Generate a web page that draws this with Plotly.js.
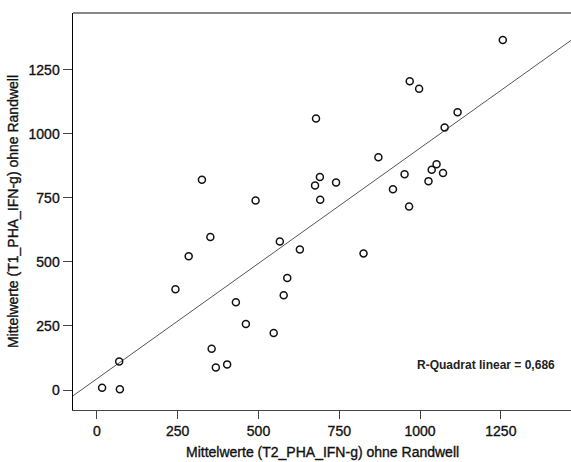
<!DOCTYPE html>
<html>
<head>
<meta charset="utf-8">
<script src="https://cdn.plot.ly/plotly-3.0.1.min.js"></script>
<style>
html,body{margin:0;padding:0;background:#fff;overflow:hidden;}
#chart{width:571px;height:462px;}
#chart .xtick text, #chart .ytick text, #chart .g-ytitle text, #chart .annotation[data-index="0"] text { stroke: #111; stroke-width: 0.35px; }
</style>
</head>
<body>
<div id="chart"></div>
<script>
// T2 means (x) and T1 means (y)
const xT2 = [16, 71, 69, 243, 284, 351, 325, 430, 461, 355, 368, 403, 547, 566, 578, 589, 628, 491, 678, 675, 690, 691, 740, 825, 871, 916, 952, 966, 968, 997, 1026, 1036, 1051, 1071, 1076, 1116, 1256];
const yT1 = [9, 3, 111, 393, 522, 597, 820, 342, 258, 161, 88, 100, 222, 579, 370, 437, 548, 739, 1059, 798, 831, 742, 810, 533, 908, 783, 842, 716, 1205, 1175, 815, 859, 881, 847, 1024, 1084, 1366];
// linear fit (as drawn in the reference)
const fitIntercept = 44;
const fitSlope = 0.90;
const xRange = [-74, 1467];
const yRange = [-78, 1471];
const tickVals = [0, 250, 500, 750, 1000, 1250];
const r2Label = "R-Quadrat linear = 0,686";
const xTitle = "Mittelwerte (T2_PHA_IFN-g) ohne Randwell";
const yTitle = "Mittelwerte (T1_PHA_IFN-g) ohne Randwell";

const fitX = xRange.slice();
const fitY = fitX.map(v => fitIntercept + fitSlope * v);

const font = "Arial, 'Liberation Sans', sans-serif";

const traces = [
  {x: fitX, y: fitY, type: 'scatter', mode: 'lines', line: {color: '#555', width: 1}, hoverinfo: 'skip'},
  {x: xT2, y: yT1, type: 'scatter', mode: 'markers',
   marker: {symbol: 'circle-open', size: 7, color: '#111', line: {width: 1.5, color: '#111'}}}
];

const layout = {
  width: 571, height: 462,
  margin: {l: 73, r: 0, t: 13, b: 52},
  paper_bgcolor: '#fff', plot_bgcolor: '#fff',
  showlegend: false,
  font: {family: font, color: '#111', size: 14},
  xaxis: {
    range: xRange, tickvals: tickVals, ticktext: tickVals.map(String),
    showgrid: false, zeroline: false, showline: true, linecolor: '#444', linewidth: 1,
    ticks: 'outside', ticklen: 8, tickcolor: '#444', tickwidth: 1,
    tickfont: {size: 14, family: font, color: '#111'}
  },
  yaxis: {
    range: yRange, tickvals: tickVals, ticktext: tickVals.map(String),
    showgrid: false, zeroline: false, showline: true, linecolor: '#000', linewidth: 1.5,
    ticks: 'outside', ticklen: 9, tickcolor: '#444', tickwidth: 1,
    tickfont: {size: 14, family: font, color: '#111'},
    title: {text: yTitle, font: {size: 14, family: font, color: '#111'}, standoff: 6}
  },
  shapes: [
    {type: 'line', xref: 'paper', yref: 'paper', x0: 0, x1: 1, y0: 1, y1: 1, line: {color: '#888', width: 2}}
  ],
  annotations: [
    {text: xTitle, xref: 'paper', yref: 'paper', x: 0.5, y: (410-452)/397,
     xanchor: 'center', yanchor: 'middle', showarrow: false,
     font: {size: 14, family: font, color: '#111'}},
    {text: '<b>' + r2Label + '</b>', xref: 'paper', yref: 'paper', x: (557-73)/498, y: (410-365)/397,
     xanchor: 'right', yanchor: 'middle', showarrow: false,
     font: {size: 12, family: "'Liberation Sans Narrow', 'Arial Narrow', Arial, sans-serif", color: '#222'}}
  ]
};

Plotly.newPlot('chart', traces, layout, {displayModeBar: false, staticPlot: true});
</script>
</body>
</html>
